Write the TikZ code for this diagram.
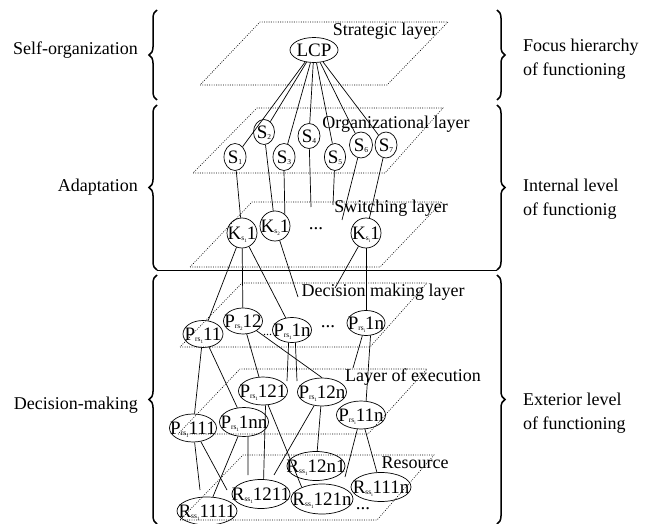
\documentclass[tikz,border=0pt]{standalone}
\usepackage{fontspec}
\setmainfont{Liberation Serif}
\usetikzlibrary{shapes.geometric,decorations.pathreplacing}

\newcommand{\sbs}[2]{\raisebox{-1.2pt}{\fontsize{7.5}{7.5}\selectfont #1\raisebox{-2pt}{\fontsize{5}{5}\selectfont #2}}}
\newcommand{\ctext}[1]{\raisebox{-6.3pt}[0pt][0pt]{\makebox[0pt]{#1}}}

\begin{document}
\begin{tikzpicture}[x=1pt,y=-1pt,
  every node/.style={font=\fontsize{19}{21}\selectfont, inner sep=0pt},
  ell/.style={draw, ellipse, line width=0.7pt, inner sep=0pt},
  layer/.style={line width=0.6pt, dash pattern=on 0.9pt off 1.4pt},
  conn/.style={line width=0.7pt},
  lbl/.style={font=\fontsize{18}{24}\selectfont, align=left},
  brc/.style={decorate, decoration={brace, amplitude=8pt}, line width=1.5pt}
]
\useasboundingbox (0,0) rectangle (657,524);

% layers
\draw[layer] (200,85) -- (387,85) -- (448,22) -- (260,22) -- cycle;
\draw[layer] (193,173) -- (385,173) -- (443,108) -- (257,108) -- cycle;
\draw[layer] (190,267) -- (380,267) -- (442,202) -- (252,202) -- cycle;
\draw[layer] (180,347) -- (370,347) -- (427,283) -- (242,283) -- cycle;
\draw[layer] (178,434) -- (368,434) -- (427,369) -- (240,369) -- cycle;
\draw[layer] (180,520) -- (377,520) -- (434,455) -- (243,455) -- cycle;

% layer labels
\node[lbl] (tStr) at (385,31) {Strategic layer};
\node[lbl] (tOrg) at (396,124) {Organizational layer};
\node[lbl] (tSw) at (391,208) {Switching layer};
\node[lbl] (tDec) at (383,292) {Decision making layer};
\node[lbl] (tEx) at (413,377) {Layer of execution};
\node[lbl] (tRes) at (415,463) {Resource};

% braces and separator
\draw[brc] (157,100) -- (157,10);
\draw[brc] (157,270) -- (157,105);
\draw[brc] (157,524) -- (157,275);
\draw[brc] (497,10) -- (497,100);
\draw[brc] (497,105) -- (497,270);
\draw[brc] (497,275) -- (497,524);
\draw[line width=0.8pt] (157,270) -- (497,270);

% side labels
\node[lbl, anchor=east] (lSelf) at (138,50) {Self-organization};
\node[lbl, anchor=east] (lAd) at (138,187) {Adaptation};
\node[lbl, anchor=east] (lDec) at (138,405) {Decision-making};
\node[lbl, anchor=west] (rFoc) at (523,59) {Focus hierarchy\\of functioning};
\node[lbl, anchor=west] (rInt) at (523,199) {Internal level\\of functionig};
\node[lbl, anchor=west] (rExt) at (523,413) {Exterior level\\of functioning};

% nodes
\node[ell, minimum width=48pt, minimum height=25pt] (LCP) at (314,50) {\ctext{LCP}};
\node[ell, minimum width=22pt, minimum height=27pt] (S1) at (235,157) {\ctext{S\sbs{1}{}}};
\node[ell, minimum width=21pt, minimum height=25pt] (S2) at (264,132) {\ctext{S\sbs{2}{}}};
\node[ell, minimum width=22pt, minimum height=27pt] (S3) at (284,157) {\ctext{S\sbs{3}{}}};
\node[ell, minimum width=22pt, minimum height=25pt] (S4) at (309,136) {\ctext{S\sbs{4}{}}};
\node[ell, minimum width=21pt, minimum height=27pt] (S5) at (335,157) {\ctext{S\sbs{5}{}}};
\node[ell, minimum width=23pt, minimum height=26pt] (S6) at (361,145) {\ctext{S\sbs{6}{}}};
\node[ell, minimum width=22pt, minimum height=26pt] (S7) at (386,145) {\ctext{S\sbs{7}{}}};

\node[ell, minimum width=30pt, minimum height=30pt] (K1) at (242,233) {\ctext{K\sbs{s}{1}1}};
\node[ell, minimum width=30pt, minimum height=30pt] (K2) at (275,226) {\ctext{K\sbs{s}{2}1}};
\node[ell, minimum width=30pt, minimum height=30pt] (K3) at (366,233) {\ctext{K\sbs{s}{i}1}};

\node[ell, minimum width=40pt, minimum height=27pt] (P11) at (203,334) {\ctext{P\sbs{rs}{1}11}};
\node[ell, minimum width=39pt, minimum height=26pt] (P12) at (243,321) {\ctext{P\sbs{rs}{2}12}};
\node[ell, minimum width=39pt, minimum height=25pt] (P1na) at (292,330) {\ctext{P\sbs{rs}{1}1n}};
\node[ell, minimum width=38pt, minimum height=25pt] (P1nb) at (366,323) {\ctext{P\sbs{rs}{i}1n}};

\node[ell, minimum width=47pt, minimum height=28pt] (P111) at (193,428) {\ctext{P\sbs{rs}{1}111}};
\node[ell, minimum width=49pt, minimum height=29pt] (P1nn) at (244,422) {\ctext{P\sbs{rs}{1}1nn}};
\node[ell, minimum width=49pt, minimum height=28pt] (P121) at (263,391) {\ctext{P\sbs{rs}{1}121}};
\node[ell, minimum width=49pt, minimum height=28pt] (P12n) at (322,392) {\ctext{P\sbs{rs}{1}12n}};
\node[ell, minimum width=49pt, minimum height=28pt] (P11n) at (361,415) {\ctext{P\sbs{rs}{i}11n}};

\node[ell, minimum width=58pt, minimum height=29pt] (R12n1) at (316,466) {\ctext{R\sbs{ss}{1}12n1}};
\node[ell, minimum width=60pt, minimum height=29pt] (R111n) at (381,487) {\ctext{R\sbs{ss}{i}111n}};
\node[ell, minimum width=58pt, minimum height=29pt] (R1211) at (261,494) {\ctext{R\sbs{ss}{1}1211}};
\node[ell, minimum width=62pt, minimum height=30pt] (R121n) at (322,499) {\ctext{R\sbs{ss}{1}121n}};
\node[ell, minimum width=60pt, minimum height=28pt] (R1111) at (207,511) {\ctext{R\sbs{ss}{1}1111}};

% dots
\node (d1) at (316,229) {...};
\node[font=\fontsize{12}{12}\selectfont] (d2) at (267.5,335) {...};
\node (d3) at (328,327) {...};
\node (d4) at (363,509) {...};

% free ends
\coordinate (f1) at (311,207);
\coordinate (f2) at (333,205);
\coordinate (f3) at (342,220);
\coordinate (f4) at (298,297);
\coordinate (f5) at (335,288);
\coordinate (e1) at (287,381);
\coordinate (e2) at (297,381);
\coordinate (f6) at (353,368);
\coordinate (f7) at (200,490);
\coordinate (f8) at (227,490);
\coordinate (f9) at (248,475);
\coordinate (f10) at (274,475);
\coordinate (f11) at (345,477);

% connectors
\foreach \s in {S1,S2,S3,S4,S5,S6,S7} \draw[conn] (LCP) -- (\s);
\draw[conn] (S1) -- (K1);
\draw[conn] (S2) -- (K2);
\draw[conn] (S3.south) -- (K2.50);
\draw[conn] (S4) -- (f1);
\draw[conn] (S5) -- (f2);
\draw[conn] (S6) -- (f3);
\draw[conn] (S7) -- (K3);

\draw[conn] (K1) -- (P11);
\draw[conn] (K1) -- (P12);
\draw[conn] (K1) -- (P1na);
\draw[conn] (K2) -- (f4);
\draw[conn] (K3) -- (f5);
\draw[conn] (K3) -- (P1nb);

\draw[conn] (P11) -- (P111);
\draw[conn] (P11) -- (P1nn);
\draw[conn] (P12) -- (P121);
\draw[conn] (P12) -- (P12n.north);
\draw[conn] (P1na.255) -- (e1);
\draw[conn] (P1na.285) -- (e2);
\draw[conn] (P1nb) -- (f6);
\draw[conn] (P1nb.290) -- (P11n.70);

\draw[conn] (P111) -- (f7);
\draw[conn] (P111.300) -- (f8);
\draw[conn] (P1nn) -- (R1111);
\draw[conn] (P1nn.285) -- (f9);
\draw[conn] (P121.280) -- (R1211.80);
\draw[conn] (P121.290) -- (R121n.150);
\draw[conn] (P12n) -- (f10);
\draw[conn] (P12n) -- (R12n1);
\draw[conn] (P11n) -- (f11);
\draw[conn] (P11n) -- (R111n);
\end{tikzpicture}
\end{document}
